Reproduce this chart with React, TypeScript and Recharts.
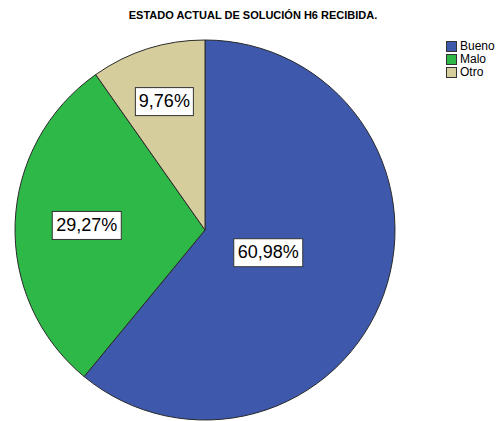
import React from "react";
import { PieChart, Pie, Cell, Legend } from "recharts";

const categories = ["Bueno", "Malo", "Otro"];
const counts = [25, 12, 4];
const colors = ["#3e58ac", "#2eb848", "#d5cd9c"];
const title = "ESTADO ACTUAL DE SOLUCIÓN H6 RECIBIDA.";

const data = categories.map((name, i) => ({ name, value: counts[i] }));
const total = counts.reduce((a, b) => a + b, 0);
const FONT = "'Liberation Sans', Arial, Helvetica, sans-serif";
const RAD = Math.PI / 180;

const renderLabel = (props: any) => {
  const { cx, cy, midAngle, outerRadius, value } = props;
  const frac = value / total;
  const theta = frac * 2 * Math.PI;
  const d = (1.08 * 4 * outerRadius * Math.sin(theta / 2)) / (3 * theta);
  const x = cx + d * Math.cos(-midAngle * RAD);
  const y = cy + d * Math.sin(-midAngle * RAD);
  const txt = (frac * 100).toFixed(2).replace(".", ",") + "%";
  const w = txt.length * 11 + 3;
  const h = 28;
  return (
    <g>
      <rect x={x - w / 2} y={y - h / 2} width={w} height={h} fill="#ffffff" stroke="#333333" strokeWidth={1} />
      <text x={x} y={y + 1} textAnchor="middle" dominantBaseline="middle" fontSize={18} fontFamily={FONT} fill="#000">
        {txt}
      </text>
    </g>
  );
};

const LegendContent = () => (
  <div style={{ fontFamily: FONT, fontSize: 12, color: "#000", lineHeight: "13px" }}>
    {categories.map((c, i) => (
      <div key={c} style={{ display: "flex", alignItems: "center", height: 13 }}>
        <svg width={12} height={11} style={{ marginRight: 2 }}>
          <rect x={0.5} y={0.5} width={10} height={10} fill={colors[i]} stroke="#333" strokeWidth={1} />
        </svg>
        <span>{c}</span>
      </div>
    ))}
  </div>
);

export default function App() {
  return (
    <div style={{ position: "absolute", left: 0, top: 0, width: 503, height: 421, background: "#fff" }}>
      <div
        style={{
          position: "absolute",
          left: 0,
          top: 9,
          width: 506,
          textAlign: "center",
          fontFamily: FONT,
          fontWeight: "bold",
          fontSize: 11,
          color: "#000",
        }}
      >
        {title}
      </div>
      <PieChart width={503} height={421} margin={{ top: 0, right: 0, bottom: 0, left: 0 }}>
        <Pie
          data={data}
          dataKey="value"
          nameKey="name"
          cx={205}
          cy={230}
          outerRadius={190}
          startAngle={90}
          endAngle={-270}
          stroke="#2a2a2a"
          strokeWidth={1}
          label={renderLabel}
          labelLine={false}
          isAnimationActive={false}
        >
          {data.map((d, i) => (
            <Cell key={d.name} fill={colors[i]} />
          ))}
        </Pie>
        <Legend
          content={<LegendContent />}
          layout="vertical"
          verticalAlign="top"
          align="right"
          wrapperStyle={{ position: "absolute", left: 446, top: 40, width: 60 }}
        />
      </PieChart>
    </div>
  );
}
